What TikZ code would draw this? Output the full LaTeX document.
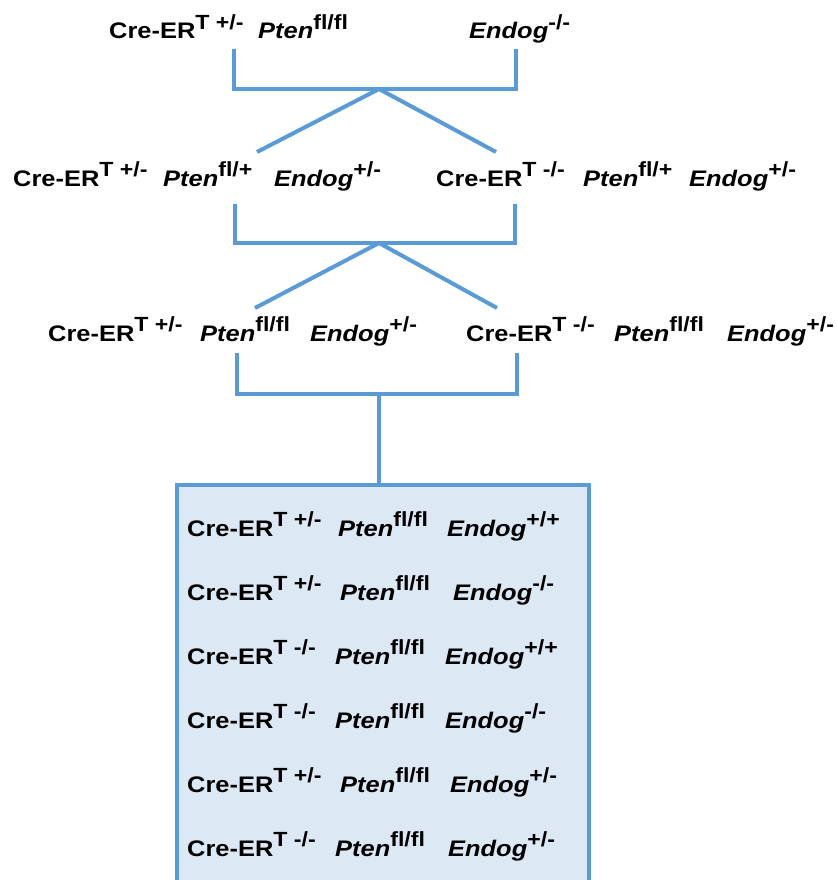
\documentclass[tikz,border=0pt]{standalone}
\usepackage{fontspec}
\setmainfont{Liberation Sans}[FakeStretch=1.13]
\usepackage{tikz}
\definecolor{linkblue}{HTML}{5B9BD5}
\definecolor{boxblue}{HTML}{DDE8F5}
% allele superscripts
\newcommand{\sps}[1]{\raisebox{0.42em}{\fontsize{20.5}{21}\selectfont #1}}
\newcommand{\CreG}[1]{Cre-ER\sps{T #1}}
\newcommand{\PtenG}[1]{\textit{Pten}\sps{#1}}
\newcommand{\EndogG}[1]{\textit{Endog}\sps{#1}}
\newcommand{\alHet}{+/-}
\newcommand{\alKo}{-/-}
\newcommand{\alWt}{+/+}
\newcommand{\alFl}{fl/fl}
\newcommand{\alFlp}{fl/+}

\begin{document}
\begin{tikzpicture}[x=1pt,y=-1pt,
    gen/.style={anchor=base west,inner sep=0pt,
        font=\fontsize{22.5}{24}\selectfont\bfseries},
    link/.style={draw=linkblue,line width=4pt},
    litterbox/.style={draw=linkblue,fill=boxblue,line width=4pt,
        minimum width=412pt,minimum height=420pt,
        anchor=north west,inner sep=0pt}]
    \clip (0,0) rectangle (836,880);
    % first cross
    \node[gen] (p1cre) at (109,39) {\CreG{\alHet}};
    \node[gen] (p1pten) at (258,39) {\PtenG{\alFl}};
    \node[gen] (p2endog) at (469,39) {\EndogG{\alKo}};
    % second cross
    \node[gen] (f1acre) at (13,186) {\CreG{\alHet}};
    \node[gen] (f1apten) at (163,186) {\PtenG{\alFlp}};
    \node[gen] (f1aendog) at (274,186) {\EndogG{\alHet}};
    \node[gen] (f1bcre) at (436,186) {\CreG{\alKo}};
    \node[gen] (f1bpten) at (583,186) {\PtenG{\alFlp}};
    \node[gen] (f1bendog) at (689,186) {\EndogG{\alHet}};
    % third cross
    \node[gen] (f2acre) at (48,341) {\CreG{\alHet}};
    \node[gen] (f2apten) at (200,341) {\PtenG{\alFl}};
    \node[gen] (f2aendog) at (310,341) {\EndogG{\alHet}};
    \node[gen] (f2bcre) at (466,341) {\CreG{\alKo}};
    \node[gen] (f2bpten) at (614,341) {\PtenG{\alFl}};
    \node[gen] (f2bendog) at (727,341) {\EndogG{\alHet}};
    % offspring
    \node[litterbox] (litter) at (175,483) {};
    \foreach \y/\ca/\px/\ea/\ex [count=\i] in {536/\alHet/338/\alWt/447,
        600/\alHet/340/\alKo/453, 664/\alKo/335/\alWt/445,
        728/\alKo/335/\alKo/445, 792/\alHet/340/\alHet/450,
        856/\alKo/335/\alHet/448}{
        \node[gen] (o\i-cre) at (187,\y) {\CreG{\ca}};
        \node[gen] (o\i-pten) at (\px,\y) {\PtenG{\alFl}};
        \node[gen] (o\i-endog) at (\ex,\y) {\EndogG{\ea}};
    }
    % brackets
    \coordinate (g1l) at (233.5,49);
    \coordinate (g1r) at (516,49);
    \coordinate (g1m) at (379,89);
    \coordinate (k1l) at (257,152);
    \coordinate (k1r) at (496,152);
    \coordinate (g2l) at (235,204);
    \coordinate (g2r) at (515,204);
    \coordinate (g2m) at (379,243);
    \coordinate (k2l) at (255,308);
    \coordinate (k2r) at (497,308);
    \coordinate (g3l) at (237,353);
    \coordinate (g3r) at (517,353);
    \coordinate (g3m) at (379,394);
    \draw[link] (g1l) -- (g1l |- g1m) -- (g1r |- g1m) -- (g1r);
    \draw[link] (k1l) -- (g1m) -- (k1r);
    \draw[link] (g2l) -- (g2l |- g2m) -- (g2r |- g2m) -- (g2r);
    \draw[link] (k2l) -- (g2m) -- (k2r);
    \draw[link] (g3l) -- (g3l |- g3m) -- (g3r |- g3m) -- (g3r);
    \draw[link] (g3m) -- (g3m |- litter.north);
\end{tikzpicture}
\end{document}
